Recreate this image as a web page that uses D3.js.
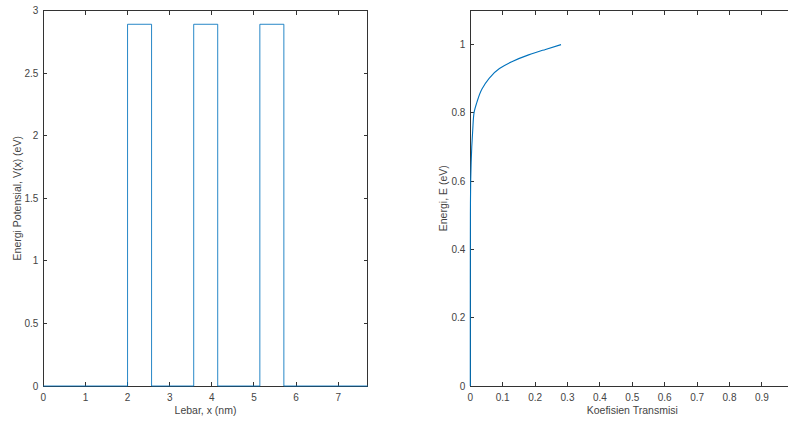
<!DOCTYPE html>
<html>
<head>
<meta charset="utf-8">
<script src="https://cdn.jsdelivr.net/npm/d3@7"></script>
<style>
  body { margin: 0; background: #fff; }
  svg { display: block; font-family: "Liberation Sans", Arial, sans-serif; }
</style>
</head>
<body>
<svg id="fig" width="788" height="421"></svg>
<script>
// left panel: potential profile (step points)
const posX = [0, 2.0, 2.57, 3.57, 4.14, 5.14, 5.71, 7.7];
const potV = [0, 2.89, 0, 2.89, 0, 2.89, 0, 0];
const leftXTicks = [0, 1, 2, 3, 4, 5, 6, 7];
const leftYTicks = [0, 0.5, 1, 1.5, 2, 2.5, 3];

// right panel: transmission vs energy
const energyE = [0, 0.2, 0.4, 0.5, 0.6, 0.65, 0.7, 0.75, 0.8, 0.83, 0.87, 0.9, 0.93, 0.95, 0.97, 0.986, 1.0];
const transT = [0, 0, 0.0001, 0.0003, 0.0012, 0.0025, 0.0045, 0.0075, 0.0115, 0.02, 0.036, 0.057, 0.09, 0.128, 0.18, 0.232, 0.28];
const rightXTicks = [0, 0.1, 0.2, 0.3, 0.4, 0.5, 0.6, 0.7, 0.8, 0.9, 1];
const rightYTicks = [0, 0.2, 0.4, 0.6, 0.8, 1];

const AXIS = "#333";
const TEXT = "#444";
const LINE = "#0072BD";
const TICK = 4;

const svg = d3.select("#fig");

function panel({x, y, xTicks, yTicks, xLabel, yLabel, yLabelX, clipRight}) {
  const g = svg.append("g");
  const [x0, x1] = x.range();
  const [y0, y1] = y.range();
  const right = Math.min(x1, clipRight);
  const hasRight = x1 <= clipRight;

  // box
  g.append("path")
    .attr("d", `M${x0},${y0}V${y1}H${right}` + (hasRight ? `V${y0}` : "") + `M${x0},${y0}H${right}`)
    .attr("fill", "none").attr("stroke", AXIS).attr("stroke-width", 1)
    .attr("shape-rendering", "crispEdges");

  const xt = xTicks.filter(d => x(d) <= clipRight);
  // ticks point inward, on both sides
  g.selectAll(".xt").data(xt).join("path")
    .attr("d", d => `M${x(d)},${y0}v${-TICK}M${x(d)},${y1}v${TICK}`)
    .attr("stroke", AXIS).attr("shape-rendering", "crispEdges");
  g.selectAll(".xl").data(xt).join("text")
    .attr("x", d => x(d)).attr("y", y0 + 15)
    .attr("text-anchor", "middle").attr("font-size", 10).attr("fill", TEXT)
    .text(d => d);

  g.selectAll(".yt").data(yTicks).join("path")
    .attr("d", d => `M${x0},${y(d)}h${TICK}` + (hasRight ? `M${x1},${y(d)}h${-TICK}` : ""))
    .attr("stroke", AXIS).attr("shape-rendering", "crispEdges");
  g.selectAll(".yl").data(yTicks).join("text")
    .attr("x", x0 - 5).attr("y", d => y(d) + 3.5)
    .attr("text-anchor", "end").attr("font-size", 10).attr("fill", TEXT)
    .text(d => d);

  g.append("text")
    .attr("x", (x0 + x1) / 2).attr("y", y0 + 28)
    .attr("text-anchor", "middle").attr("font-size", 10.5).attr("fill", TEXT)
    .text(xLabel);

  g.append("text")
    .attr("transform", `translate(${yLabelX},${(y0 + y1) / 2}) rotate(-90)`)
    .attr("text-anchor", "middle").attr("font-size", 10.5).attr("fill", TEXT)
    .text(yLabel);
  return g;
}

// left
const xL = d3.scaleLinear().domain([0, 7.7]).range([43.3, 367.7]);
const yL = d3.scaleLinear().domain([0, 3]).range([386, 10.5]);
const gL = panel({x: xL, y: yL, xTicks: leftXTicks, yTicks: leftYTicks,
  xLabel: "Lebar, x (nm)", yLabel: "Energi Potensial, V(x) (eV)", yLabelX: 21, clipRight: 9999});

gL.append("path")
  .datum(posX.map((d, i) => [d, potV[i]]))
  .attr("fill", "none").attr("stroke", LINE).attr("stroke-width", 1).attr("stroke-opacity", 0.85)
  .attr("d", d3.line().x(d => xL(d[0])).y(d => yL(d[1])).curve(d3.curveStepAfter));

// right
const xR = d3.scaleLinear().domain([0, 1]).range([470.3, 794.3]);
const yR = d3.scaleLinear().domain([0, 1.1]).range([386, 10.5]);
const gR = panel({x: xR, y: yR, xTicks: rightXTicks, yTicks: rightYTicks,
  xLabel: "Koefisien Transmisi", yLabel: "Energi, E (eV)", yLabelX: 447, clipRight: 788});

gR.append("path")
  .datum(energyE.map((d, i) => [transT[i], d]))
  .attr("fill", "none").attr("stroke", LINE).attr("stroke-width", 1.1)
  .attr("d", d3.line().x(d => xR(d[0])).y(d => yR(d[1])).curve(d3.curveMonotoneY));
</script>
</body>
</html>
